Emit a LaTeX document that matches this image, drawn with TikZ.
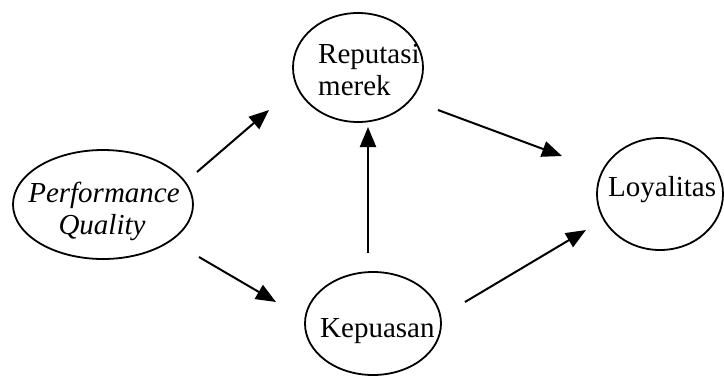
\documentclass[tikz,border=0pt]{standalone}
\usepackage{fontspec}
\setmainfont{Liberation Serif}
\usetikzlibrary{shapes.geometric,arrows.meta}
\tikzset{
  ell/.style={draw, ellipse, line width=1.8, inner sep=0pt},
  txt/.style={inner sep=0pt, font=\fontsize{29}{33}\selectfont},
  conn/.style={line width=2, -{Triangle[length=20,width=16]}}
}
\begin{document}
\begin{tikzpicture}[x=1pt,y=-1pt]
\useasboundingbox (0,0) rectangle (724,376);
% ellipses
\node[ell, minimum width=180, minimum height=109] (pq) at (103,204.5) {};
\node[ell, minimum width=130, minimum height=109] (rep) at (358,67.5) {};
\node[ell, minimum width=136, minimum height=103] (kep) at (373,323.5) {};
\node[ell, minimum width=126, minimum height=112] (loy) at (660,194) {};
% texts
\node[txt, anchor=base] (pqa) at (104,202) {\itshape Performance};
\node[txt, anchor=base] (pqb) at (102,234) {\itshape Quality};
\node[txt, anchor=base west] (repa) at (318,63) {Reputasi};
\node[txt, anchor=base west] (repb) at (318,95) {merek};
\node[txt, anchor=base west] (kepa) at (320,337) {Kepuasan};
\node[txt, anchor=base west] (loya) at (608,196) {Loyalitas};
% connector ends
\coordinate (a1) at (197,172); \coordinate (a2) at (269,110);
\coordinate (b1) at (199,257); \coordinate (b2) at (276,302);
\coordinate (c1) at (438,110); \coordinate (c2) at (562,156);
\coordinate (d1) at (465,302); \coordinate (d2) at (586,230);
\coordinate (e1) at (368,253); \coordinate (e2) at (368,127);
\draw[conn] (a1) -- (a2);
\draw[conn] (b1) -- (b2);
\draw[conn] (c1) -- (c2);
\draw[conn] (d1) -- (d2);
\draw[conn] (e1) -- (e2);
\end{tikzpicture}
\end{document}
